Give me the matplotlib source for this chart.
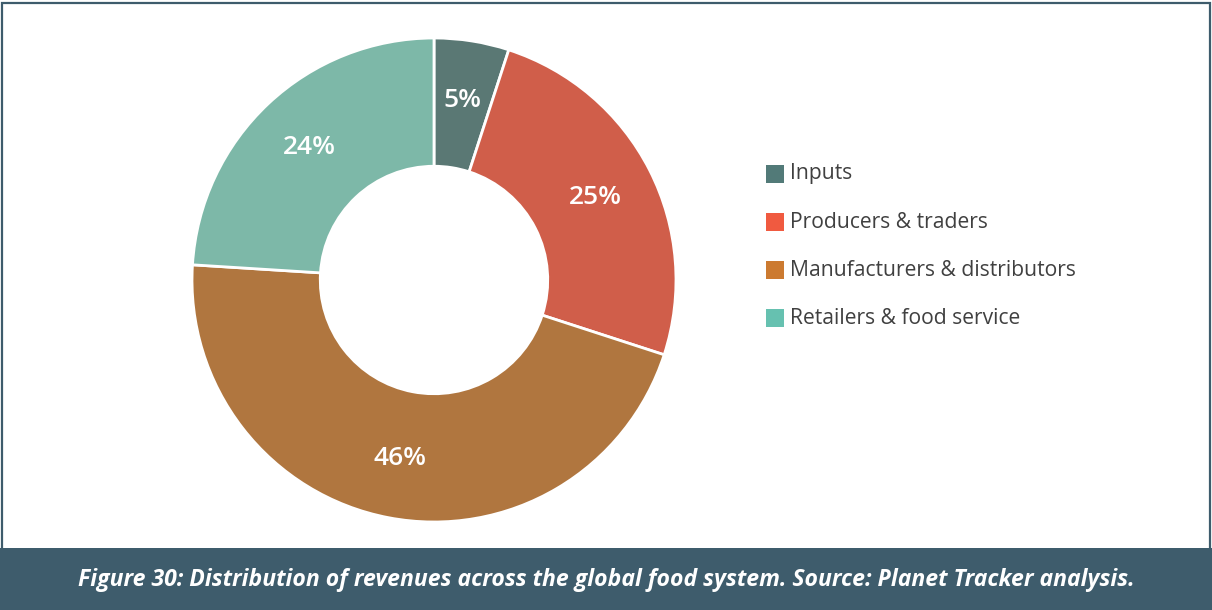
import matplotlib
matplotlib.use("Agg")
import matplotlib.pyplot as plt
from matplotlib.patches import Rectangle

categories = ["Inputs", "Producers & traders", "Manufacturers & distributors", "Retailers & food service"]
values = [5, 25, 46, 24]
labels = ["5%", "25%", "46%", "24%"]
slice_colors = ["#5a7874", "#d05e4a", "#b0763f", "#7db8a8"]
legend_colors = ["#527a78", "#f05a40", "#cc7a30", "#66c1b0"]
caption = "Figure 30: Distribution of revenues across the global food system. Source: Planet Tracker analysis."

W, H = 1212, 610
fig = plt.figure(figsize=(W / 100, H / 100), dpi=100)
fig.patch.set_facecolor("white")

band = "#3e5c6c"
# frame
fig.add_artist(Rectangle((2.5 / W, 60 / H), (W - 5) / W, (H - 62.5) / H,
                         transform=fig.transFigure, fill=False, edgecolor=band, linewidth=1.6))
# caption band
fig.add_artist(Rectangle((0, 0), 1, 62 / H, transform=fig.transFigure,
                         facecolor=band, edgecolor="none"))
fig.text(606.5 / W, 30 / H, caption, ha="center", va="center", color="white",
         family="Open Sans", fontweight="bold", style="italic", fontsize=16.6)

cx, cy, r = 434, H - 280, 242
ax = fig.add_axes([(cx - r) / W, (cy - r) / H, 2 * r / W, 2 * r / H])
wedges, texts = ax.pie(values, colors=slice_colors, startangle=90, counterclock=False,
                       radius=1.0, labels=labels, labeldistance=0.75,
                       wedgeprops=dict(width=0.53, edgecolor="white", linewidth=2),
                       textprops=dict(color="white", family="Open Sans", fontweight="semibold",
                                      fontsize=19, ha="center", va="center"))
ax.set_xlim(-1, 1)
ax.set_ylim(-1, 1)
ax.set_aspect("equal")
ax.axis("off")

# legend
rows_y = [174, 222, 270, 318]
for cat, col, y in zip(categories, legend_colors, rows_y):
    fig.add_artist(Rectangle((766 / W, (H - y - 9) / H), 18 / W, 18 / H,
                             transform=fig.transFigure, facecolor=col, edgecolor="none"))
    fig.text(790 / W, (H - y) / H, cat, ha="left", va="center", color="#404040",
             family="Open Sans", fontsize=15.2)

fig.savefig("out.png", dpi=100)
